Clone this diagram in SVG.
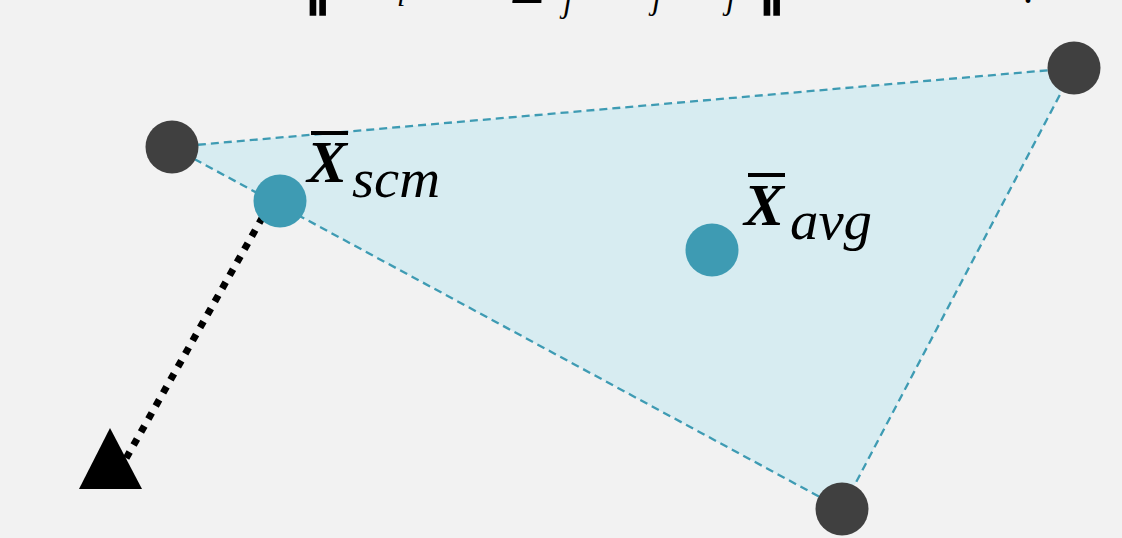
<svg xmlns="http://www.w3.org/2000/svg" width="1122" height="538" viewBox="0 0 1122 538">
<style>
.edge{fill:none;stroke:#3E9BB3;stroke-width:2.3;stroke-dasharray:8 5}
.vtx{fill:#404040}
.ctr{fill:#3E9BB3}
.lbl{font-family:"Liberation Serif",serif;font-style:italic;fill:#000}
.big{font-weight:bold;font-size:60px}
.sub{font-size:54px}
.fm{font-family:"Liberation Serif",serif;fill:#000}
</style>
<rect width="1122" height="538" fill="#F2F2F2"/>
<g id="formula">
<text class="fm" font-size="60"><tspan x="302" y="1" font-family="DejaVu Sans" font-weight="bold">‖</tspan><tspan x="397" y="6" font-size="30" font-style="italic">i</tspan><tspan x="510" y="3">Σ</tspan><tspan x="563" y="12" font-size="32" font-style="italic">j</tspan><tspan x="652" y="9" font-size="32" font-style="italic">j</tspan><tspan x="726" y="9" font-size="32" font-style="italic">j</tspan><tspan x="756" y="1" font-family="DejaVu Sans" font-weight="bold">‖</tspan><tspan x="1023" y="3" font-size="40">.</tspan></text>
</g>
<g id="hull">
<polygon points="172,147 1074,68 842,509" fill="#D7ECF1"/>
</g>
<g id="connectors">
<polygon class="edge" points="172,147 1074,68 842,509"/>
<line x1="270" y1="204" x2="124" y2="462" stroke="#000" stroke-width="7" stroke-dasharray="7 8"/>
<polygon points="110,428 79,489 142,489" fill="#000"/>
</g>
<g id="v1"><circle class="vtx" cx="172" cy="147" r="26.5"/></g>
<g id="v2"><circle class="vtx" cx="1074" cy="68" r="26.5"/></g>
<g id="v3"><circle class="vtx" cx="842" cy="509" r="26.5"/></g>
<g id="scm">
<circle class="ctr" cx="280" cy="201" r="26.5"/>
<rect x="311" y="131" width="37" height="4" fill="#000"/>
<text class="lbl"><tspan class="big" x="307" y="182">X</tspan><tspan class="sub" x="352" y="197" textLength="88" lengthAdjust="spacingAndGlyphs">scm</tspan></text>
</g>
<g id="avg">
<circle class="ctr" cx="712" cy="250" r="26.5"/>
<rect x="748" y="173" width="37" height="4" fill="#000"/>
<text class="lbl"><tspan class="big" x="744" y="225">X</tspan><tspan class="sub" x="790" y="239" textLength="82" lengthAdjust="spacingAndGlyphs">avg</tspan></text>
</g>
</svg>
